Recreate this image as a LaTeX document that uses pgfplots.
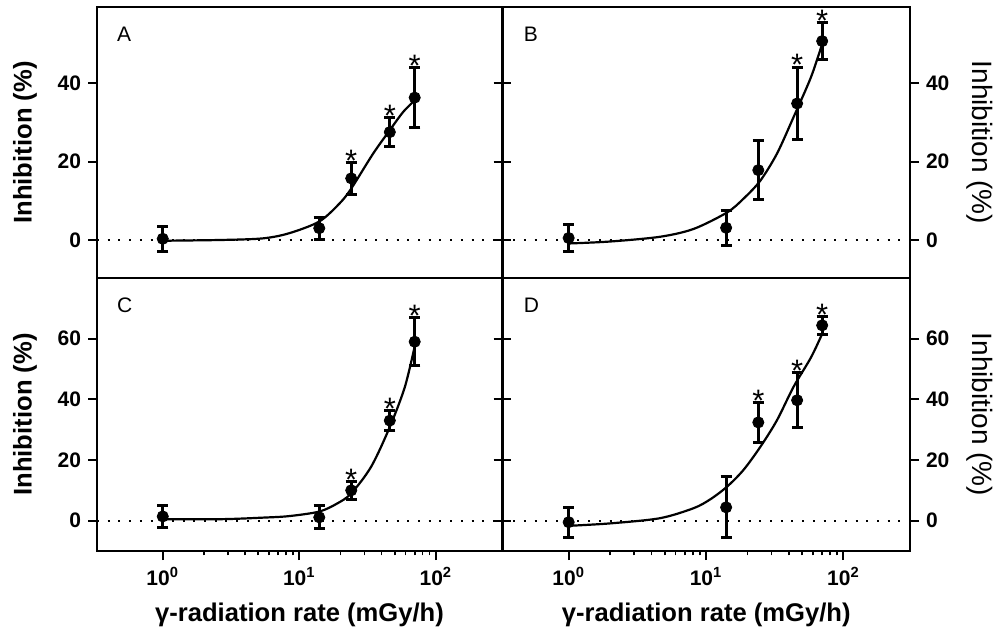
\documentclass[border=0pt]{standalone}
\usepackage{fontspec}
\setmainfont{Liberation Sans}
\usepackage{pgfplots}
\pgfplotsset{compat=1.18}

\pgfplotsset{
  myPanel/.style={
    xmin=0.33, xmax=305,
    scale only axis,
    axis line style={line width=1.1pt},
    tick align=outside,
    major tick length=4.5pt, minor tick length=2.2pt,
    every major tick/.style={black, line width=1pt},
    every minor tick/.style={black, line width=0.8pt},
    ytick pos=both,
    ticklabel style={font=\bfseries\fontsize{10.5}{11}\selectfont},
    every axis y label/.style={at={(axis description cs:-0.178,0.5)}, rotate=90, anchor=center,
      font=\bfseries\fontsize{12.8}{14}\selectfont},
    every axis x label/.style={at={(axis description cs:0.5,-0.26)}, anchor=base,
      font=\bfseries\fontsize{12.8}{14}\selectfont},
  },
  myTop/.style={height=135.5pt, ymin=-9.7, ymax=59.4, ytick={0,20,40}, xmajorticks=false, xminorticks=false},
  myBot/.style={height=136.5pt, ymin=-10, ymax=80, ytick={0,20,40,60}, xtick pos=left,
    xtick={1,10,100}, xticklabels={10\textsuperscript{0},10\textsuperscript{1},10\textsuperscript{2}},
    xlabel={γ-radiation rate (mGy/h)}},
  myRight/.style={yticklabel pos=right,
    every axis y label/.style={at={(axis description cs:1.17,0.5)}, rotate=-90, anchor=center,
      font=\fontsize{14}{15}\selectfont}},
  myZero/.style={black, line width=1pt, dash pattern=on 1pt off 4.35pt},
  myFit/.style={black, line width=1.1pt, smooth},
  myPts/.style={black, only marks, mark=*, mark size=2.8pt,
    error bars/y dir=both, error bars/y explicit,
    error bars/error bar style={line width=1.6pt},
    error bars/error mark options={rotate=90, mark size=2.8pt, line width=1.5pt}},
  myStars/.style={draw=none, nodes near coords={*},
    every node near coord/.append style={font=\fontsize{15.5}{16}\selectfont, anchor=base, yshift=-4.4pt, inner sep=0pt}},
}

\begin{document}
\begin{tikzpicture}
\useasboundingbox (0,0) rectangle (497.5pt,316pt);

% A
\begin{semilogxaxis}[myPanel, myTop, at={(48.5pt,177pt)}, anchor=south west, width=202.5pt,
  /pgf/number format/assume math mode=true,
  ylabel={Inhibition (\%)}]
\addplot[myZero] coordinates {(0.33,0) (305,0)};
\addplot[myFit] coordinates {(1,-0.2) (2.73,0) (5.4,0.4) (8.4,1.7) (14,4.7) (19.7,9.3) (24,13.1) (34.7,22.0) (46,28.0) (57.5,32.6) (70,35.6)};
\addplot[myPts] coordinates {(1,0.3) +- (0,3.2) (14,3.0) +- (0,2.8) (24,15.7) +- (0,4.0) (46,27.5) +- (0,3.6) (70,36.3) +- (0,7.7)};
\addplot[myStars] coordinates {(24,19.7) (46,31.1) (70,44.0)};
\node[anchor=base west, font=\fontsize{10.5}{11}\selectfont] at (rel axis cs:0.032,0.871) {A};
\end{semilogxaxis}

% B
\begin{semilogxaxis}[myPanel, myTop, myRight, at={(251.25pt,177pt)}, anchor=south west, width=203.75pt,
  /pgf/number format/assume math mode=true,
  ylabel={Inhibition (\%)}]
\addplot[myZero] coordinates {(0.33,0) (305,0)};
\addplot[myFit] coordinates {(1,-0.9) (2,-0.4) (4.6,0.8) (8.1,2.8) (14.2,7.0) (18.7,10.5) (24.8,15.1) (32.8,22.0) (43.3,31.3) (58,41.5) (70,50.0)};
\addplot[myPts] coordinates {(1,0.5) +- (0,3.4) (14,3.1) +- (0,4.5) (24,17.8) +- (0,7.6) (46,34.8) +- (0,9.3) (70,50.7) +- (0,4.7)};
\addplot[myStars] coordinates {(46,44.1) (70,55.4)};
\node[anchor=base west, font=\fontsize{10.5}{11}\selectfont] at (rel axis cs:0.035,0.871) {B};
\end{semilogxaxis}

% C
\begin{semilogxaxis}[myPanel, myBot, at={(48.5pt,40.5pt)}, anchor=south west, width=202.5pt,
  /pgf/number format/assume math mode=true,
  ylabel={Inhibition (\%)}]
\addplot[myZero] coordinates {(0.33,0) (305,0)};
\addplot[myFit] coordinates {(1,0.5) (2.73,0.5) (5.4,1.0) (8.4,1.5) (14,3.0) (19,5.7) (24,9.0) (33.6,17.8) (46,30.9) (59.3,44.1) (70,57.5)};
\addplot[myPts] coordinates {(1,1.4) +- (0,3.5) (14,1.1) +- (0,3.8) (24,10.0) +- (0,2.9) (46,33.0) +- (0,3.4) (70,59.0) +- (0,8.0)};
\addplot[myStars] coordinates {(24,12.9) (46,36.4) (70,67.0)};
\node[anchor=base west, font=\fontsize{10.5}{11}\selectfont] at (rel axis cs:0.032,0.872) {C};
\end{semilogxaxis}

% D
\begin{semilogxaxis}[myPanel, myBot, myRight, at={(251.25pt,40.5pt)}, anchor=south west, width=203.75pt,
  /pgf/number format/assume math mode=true,
  ylabel={Inhibition (\%)}]
\addplot[myZero] coordinates {(0.33,0) (305,0)};
\addplot[myFit] coordinates {(1,-1.7) (2,-0.9) (4.6,0.8) (8.1,4.1) (10.7,7.0) (14.2,11.2) (18.7,16.7) (24.8,24.3) (32.8,33.1) (43.3,44.1) (58,53.8) (70,61.6)};
\addplot[myPts] coordinates {(1,-0.5) +- (0,5.0) (14,4.4) +- (0,10.1) (24,32.4) +- (0,6.5) (46,39.7) +- (0,9.0) (70,64.4) +- (0,2.9)};
\addplot[myStars] coordinates {(24,38.9) (46,48.7) (70,67.3)};
\node[anchor=base west, font=\fontsize{10.5}{11}\selectfont] at (rel axis cs:0.035,0.872) {D};
\end{semilogxaxis}
\end{tikzpicture}
\end{document}
